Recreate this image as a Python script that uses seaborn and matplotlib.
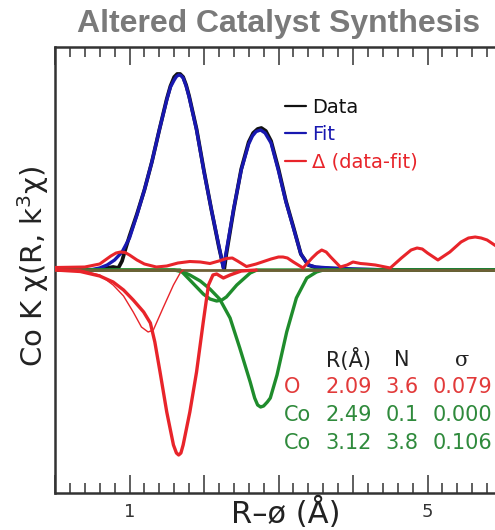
import numpy as np
import pandas as pd
import matplotlib
matplotlib.use("Agg")
import matplotlib.pyplot as plt
import seaborn as sns
from matplotlib.lines import Line2D

# |FT| magnitudes vs R (Å), arbitrary units; shell contributions drawn negative
data_r = [0.0, 0.5, 0.6, 0.7, 0.78, 0.85, 0.9, 0.95, 1.0, 1.1, 1.2, 1.3, 1.4, 1.5,
          1.55, 1.6, 1.64, 1.68, 1.72, 1.76, 1.8, 1.9, 2.0, 2.1, 2.2, 2.27, 2.3, 2.4,
          2.5, 2.6, 2.66, 2.72, 2.77, 2.83, 2.9, 3.0, 3.1, 3.2, 3.3, 3.4, 3.5, 3.7, 4.0, 4.5, 6.0]
data_y = [0.0, 0.0, 0.05, 0.2, 0.3, 0.2, 0.9, 2.2, 3.4, 5.6, 8.0, 10.8, 14.0, 17.1,
          18.4, 19.3, 19.6, 19.6, 19.3, 18.5, 17.4, 14.1, 9.9, 6.0, 2.3, 0.0, 1.6, 6.1,
          10.1, 12.8, 13.7, 14.1, 14.2, 13.9, 12.9, 10.1, 6.9, 4.3, 1.6, 0.5, 0.25, 0.15, 0.05, 0.0, 0.0]

fit_r = [0.0, 0.5, 0.6, 0.7, 0.8, 0.9, 1.0, 1.1, 1.2, 1.3, 1.4, 1.5, 1.55, 1.6,
         1.63, 1.66, 1.69, 1.72, 1.76, 1.8, 1.9, 2.0, 2.1, 2.2, 2.26, 2.3, 2.4, 2.5,
         2.6, 2.65, 2.7, 2.76, 2.82, 2.9, 3.0, 3.1, 3.2, 3.3, 3.4, 3.5, 3.7, 4.0, 4.5, 6.0]
fit_y = [0.0, 0.05, 0.2, 0.5, 1.0, 1.8, 3.2, 5.5, 8.0, 10.8, 14.0, 17.0, 18.3, 19.0,
         19.35, 19.5, 19.45, 19.2, 18.4, 17.3, 14.0, 9.8, 6.0, 2.4, 0.2, 1.9, 6.2, 10.0,
         12.6, 13.4, 13.85, 14.0, 13.7, 12.7, 9.9, 6.8, 4.2, 1.6, 0.5, 0.3, 0.2, 0.1, 0.0, 0.0]

delta_r = [0.0, 0.4, 0.6, 0.75, 0.82, 0.88, 0.94, 1.0, 1.1, 1.2, 1.36, 1.5, 1.65, 1.81, 1.95, 2.08,
           2.2, 2.3, 2.38, 2.45, 2.57, 2.7, 2.9, 3.0, 3.06, 3.12, 3.2, 3.33, 3.45, 3.52, 3.58,
           3.64, 3.7, 3.83, 3.92, 4.0, 4.1, 4.18, 4.3, 4.5, 4.65, 4.78, 4.86, 4.93, 5.0, 5.14,
           5.3, 5.45, 5.55, 5.64, 5.72, 5.8, 5.9, 6.0]
delta_y = [0.25, 0.3, 0.6, 1.4, 1.7, 1.8, 1.75, 1.5, 1.0, 0.6, 0.3, 0.4, 0.7, 0.85, 0.8, 0.65,
           0.9, 1.15, 1.2, 0.9, 0.35, 0.6, 1.1, 1.3, 1.3, 1.2, 0.8, 0.2, 1.2, 1.7, 2.0,
           1.8, 1.3, 0.3, 0.5, 0.8, 0.65, 0.6, 0.5, 0.2, 1.2, 2.0, 2.2, 2.1, 1.7, 1.0,
           1.8, 2.8, 3.2, 3.3, 3.2, 3.0, 2.5, 2.0]

# O shell (thick) and its companion thin trace
o_r = [0.0, 0.34, 0.6, 0.78, 0.92, 1.05, 1.19, 1.28, 1.34, 1.41, 1.5, 1.59, 1.63, 1.66,
       1.69, 1.72, 1.81, 1.9, 1.99, 2.06, 2.12, 2.17, 2.26, 2.35, 2.5, 2.7]
o_y = [0.0, -0.15, -0.6, -1.2, -2.0, -3.0, -4.2, -5.3, -7.2, -10.2, -14.2, -17.5, -18.3, -18.5,
       -18.3, -17.5, -14.2, -10.2, -5.2, -1.5, -0.5, -0.4, -0.8, -0.5, -0.1, 0.0]

thin_r = [0.0, 0.34, 0.6, 0.78, 0.92, 1.05, 1.16, 1.25, 1.32, 1.45, 1.59, 1.68, 1.72]
thin_y = [0.0, 0.0, -0.5, -1.5, -2.6, -4.2, -5.7, -6.2, -6.0, -3.8, -1.5, -0.3, 0.0]

# Co shells
co1_r = [0.0, 1.68, 1.81, 1.99, 2.08, 2.17, 2.24, 2.3, 2.44, 2.62, 2.71, 6.0]
co1_y = [0.0, 0.0, -1.0, -2.4, -2.9, -3.1, -3.0, -2.7, -1.5, -0.3, 0.0, 0.0]

co2_r = [0.0, 1.6, 1.72, 1.81, 1.95, 2.08, 2.21, 2.35, 2.48, 2.62, 2.68, 2.72, 2.76, 2.8,
         2.85, 2.89, 2.98, 3.11, 3.24, 3.38, 3.51, 3.6, 6.0]
co2_y = [0.0, 0.0, -0.2, -0.5, -1.1, -1.9, -2.9, -4.8, -7.8, -11.2, -12.8, -13.5, -13.7, -13.6,
         -13.2, -12.8, -10.5, -6.2, -2.8, -0.8, -0.2, 0.0, 0.0]

# fit parameter table
shell_names = ["O", "Co", "Co"]
shell_R = ["2.09", "2.49", "3.12"]
shell_N = ["3.6", "0.1", "3.8"]
shell_sigma = ["0.079", "0.000", "0.106"]

x_ticks = [0, 1, 2, 3, 4, 5, 6]
x_tick_labels = ["", "1", "", "", "", "5", ""]

RED = "#e8242a"
GREEN = "#1f8c2c"
BLUE = "#1818b0"
BLACK = "#111111"
TXT_RED = "#e23a3a"
TXT_GREEN = "#2f8a3c"
AXIS = "#333333"

sns.set_theme(style="ticks")
plt.rcParams["font.family"] = ["DejaVu Sans"]
plt.rcParams["xtick.top"] = True
plt.rcParams["xtick.direction"] = "in"

W, H = 495, 530
fig = plt.figure(figsize=(W / 100, H / 100), dpi=100)
ax = fig.add_axes([55 / W, 37 / H, 447 / W, 446 / H])


def draw(r, y, color, lw, z):
    sns.lineplot(x=r, y=y, ax=ax, color=color, linewidth=lw, sort=False,
                 estimator=None, legend=False, zorder=z)


draw(data_r, data_y, BLACK, 2.7, 2)
draw(fit_r, fit_y, BLUE, 2.4, 3)
draw(co1_r, co1_y, GREEN, 2.4, 4)
draw(co2_r, co2_y, GREEN, 2.4, 4)
ax.axhline(0, color="#6f5f35", linewidth=2.0, zorder=4.5)
draw(o_r, o_y, RED, 2.4, 5)
draw(thin_r, thin_y, RED, 1.0, 6)
draw(delta_r, delta_y, RED, 2.2, 7)

ax.set_xlim(0, 6)
ax.set_ylim(-22.3, 22.3)
ax.set_xticks(x_ticks)
ax.set_xticklabels(x_tick_labels)
ax.set_xticks(np.arange(0, 6.01, 0.2), minor=True)
ax.set_yticks([])
ax.xaxis.set_ticks_position("both")
ax.tick_params(axis="x", which="both", direction="in", bottom=True, top=True,
               labelbottom=True, labeltop=False,
               colors=AXIS, width=1.1, labelsize=13, pad=7)
ax.tick_params(axis="x", which="major", length=13)
ax.tick_params(axis="x", which="minor", length=7)

for s in ax.spines.values():
    s.set_visible(True)
    s.set_color(AXIS)
    s.set_linewidth(1.8)

ax.set_xlabel("")
ax.set_ylabel("")
fig.text(286 / W, 1 - 513 / H, "R–ø (Å)", fontsize=22, ha="center", va="center",
         color="#222222")
fig.text(33 / W, 1 - 266 / H, "Co K χ(R, k$^3$χ)", fontsize=21, rotation=90,
         ha="center", va="center", color="#222222")
fig.text(279 / W, 1 - 24 / H, "Altered Catalyst Synthesis", fontsize=23,
         fontweight="bold", family="Liberation Sans", ha="center", va="center",
         color="#7a7a7a")

handles = [Line2D([], [], color=BLACK, lw=1.6),
           Line2D([], [], color=BLUE, lw=1.6),
           Line2D([], [], color=RED, lw=1.6)]
labels = ["Data", "Fit", "Δ (data-fit)"]
leg = ax.legend(handles, labels, loc="upper left", bbox_to_anchor=(285 / W, 1 - 98 / H),
                bbox_transform=fig.transFigure, frameon=False, fontsize=14,
                handlelength=1.1, handletextpad=0.3, labelspacing=0.42,
                borderpad=0, borderaxespad=0, labelcolor="linecolor")

# parameter table
hdr_y = 360
fig.text(349 / W, 1 - hdr_y / H, "R(Å)", fontsize=15, ha="center", va="center", color="#222222")
fig.text(402 / W, 1 - hdr_y / H, "N", fontsize=15, ha="center", va="center", color="#222222")
fig.text(462 / W, 1 - hdr_y / H, "σ", fontsize=15, ha="center", va="center", color="#222222",
         family="DejaVu Serif")
row_y = [387, 415, 443]
row_c = [TXT_RED, TXT_GREEN, TXT_GREEN]
for name, rr, nn, ss, yy, cc in zip(shell_names, shell_R, shell_N, shell_sigma, row_y, row_c):
    fig.text(284 / W, 1 - yy / H, name, fontsize=15, ha="left", va="center", color=cc)
    fig.text(349 / W, 1 - yy / H, rr, fontsize=15, ha="center", va="center", color=cc)
    fig.text(402 / W, 1 - yy / H, nn, fontsize=15, ha="center", va="center", color=cc)
    fig.text(462 / W, 1 - yy / H, ss, fontsize=15, ha="center", va="center", color=cc)

fig.savefig("out.png", dpi=100)
